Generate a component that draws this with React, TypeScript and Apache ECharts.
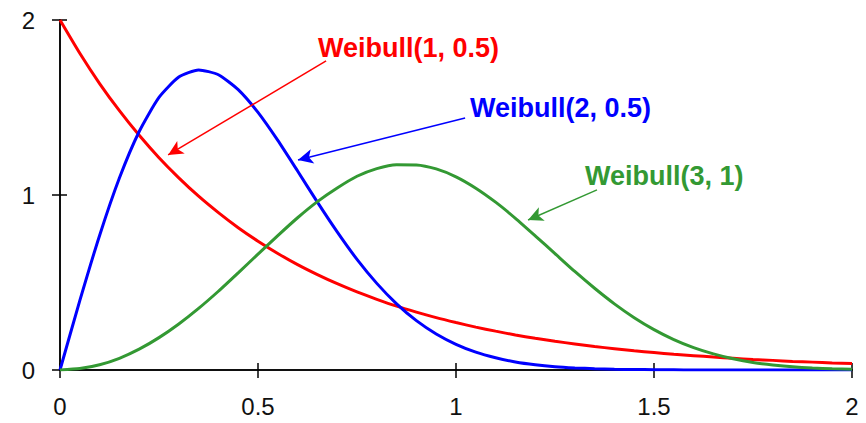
import React, { useEffect, useRef } from "react";
import * as echarts from "echarts";

const xValues = [
  0, 0.05, 0.1, 0.15, 0.2, 0.25, 0.3, 0.35, 0.4, 0.45, 0.5, 0.55, 0.6, 0.65, 0.7, 0.75, 0.8, 0.85, 0.9, 0.95,
  1.0, 1.05, 1.1, 1.15, 1.2, 1.25, 1.3, 1.35, 1.4, 1.45, 1.5, 1.55, 1.6, 1.65, 1.7, 1.75, 1.8, 1.85, 1.9, 1.95, 2.0,
];
const weibull1_05 = [
  2.0, 1.81, 1.637, 1.482, 1.341, 1.213, 1.098, 0.993, 0.899, 0.813, 0.736, 0.666, 0.602, 0.545, 0.493, 0.446,
  0.404, 0.365, 0.331, 0.299, 0.271, 0.245, 0.222, 0.2, 0.181, 0.164, 0.149, 0.134, 0.122, 0.11, 0.1, 0.09, 0.082,
  0.074, 0.067, 0.06, 0.055, 0.049, 0.045, 0.04, 0.037,
];
const weibull2_05 = [
  0, 0.396, 0.769, 1.097, 1.363, 1.558, 1.674, 1.715, 1.687, 1.602, 1.472, 1.312, 1.137, 0.959, 0.789, 0.632,
  0.495, 0.378, 0.282, 0.206, 0.147, 0.102, 0.07, 0.046, 0.03, 0.019, 0.012, 0.007, 0.004, 0.003, 0.002, 0.001, 0,
  0, 0, 0, 0, 0, 0, 0, 0,
];
const weibull3_1 = [
  0, 0.008, 0.03, 0.067, 0.119, 0.185, 0.263, 0.352, 0.45, 0.555, 0.662, 0.768, 0.87, 0.962, 1.04, 1.107, 1.151,
  1.173, 1.172, 1.149, 1.104, 1.039, 0.959, 0.867, 0.767, 0.665, 0.563, 0.467, 0.378, 0.299, 0.231, 0.174, 0.128,
  0.092, 0.064, 0.043, 0.029, 0.018, 0.011, 0.007, 0.004,
];
const xTicks = ["0", "0.5", "1", "1.5", "2"];
const yTicks = ["0", "1", "2"];
const seriesNames = ["Weibull(1, 0.5)", "Weibull(2, 0.5)", "Weibull(3, 1)"];
const seriesColors = ["#ff0000", "#0000ff", "#339933"];
// arrow annotations in data coordinates: [startX, startY, tipX, tipY]
const arrows = [
  [0.672, 1.766, 0.273, 1.229],
  [1.023, 1.44, 0.601, 1.2],
  [1.356, 1.029, 1.182, 0.857],
];
// label positions in pixels: [left, centerY]
const labelPos = [
  [318, 48],
  [470, 108],
  [585, 176],
];

const FONT = '"Liberation Sans", Arial, sans-serif';

export default function App() {
  const ref = useRef<HTMLDivElement>(null);
  useEffect(() => {
    document.body.style.margin = "0";
    const chart = echarts.init(ref.current!, null, { renderer: "svg" });
    const dataSets = [weibull1_05, weibull2_05, weibull3_1];
    const order = [0, 1, 2];
    const axisLine = { show: true, lineStyle: { color: "#000", width: 1.5 } };
    const labelStyle = { color: "#111", fontSize: 24, fontFamily: FONT };
    const option: any = {
      animation: false,
      backgroundColor: "#fff",
      grid: { left: 60, right: 14, top: 20, bottom: 53, containLabel: false },
      xAxis: [
        {
          type: "value",
          min: 0,
          max: 2,
          interval: 0.5,
          axisLine,
          axisTick: { show: true, inside: false, length: 8, lineStyle: { color: "#000", width: 1.5 } },
          axisLabel: {
            ...labelStyle,
            margin: 24,
            formatter: (v: number) => xTicks[Math.round(v / 0.5)] ?? "",
          },
          splitLine: { show: false },
        },
        {
          type: "value",
          position: "bottom",
          min: 0,
          max: 2,
          interval: 0.5,
          axisLine,
          axisTick: { show: true, inside: true, length: 7, lineStyle: { color: "#000", width: 1.5 } },
          axisLabel: { show: false },
          splitLine: { show: false },
        },
      ],
      yAxis: [
        {
          type: "value",
          min: 0,
          max: 2,
          interval: 1,
          axisLine,
          axisTick: { show: true, inside: false, length: 8, lineStyle: { color: "#000", width: 1.5 } },
          axisLabel: {
            ...labelStyle,
            margin: 25,
            formatter: (v: number) => yTicks[Math.round(v)] ?? "",
          },
          splitLine: { show: false },
        },
        {
          type: "value",
          position: "left",
          min: 0,
          max: 2,
          interval: 1,
          axisLine,
          axisTick: { show: true, inside: true, length: 7, lineStyle: { color: "#000", width: 1.5 } },
          axisLabel: { show: false },
          splitLine: { show: false },
        },
      ],
      series: order.map((i) => ({
        name: seriesNames[i],
        type: "line",
        xAxisIndex: 0,
        yAxisIndex: 0,
        showSymbol: false,
        smooth: 0.2,
        lineStyle: { color: seriesColors[i], width: 3 },
        itemStyle: { color: seriesColors[i] },
        data: xValues.map((x, k) => [x, dataSets[i][k]]),
        z: 2 + i,
        markLine: {
          silent: true,
          animation: false,
          symbol: ["none", "arrow"],
          symbolSize: [11, 15],
          label: { show: false },
          lineStyle: { color: seriesColors[i], width: 1.5, type: "solid" },
          data: [
            [
              { coord: [arrows[i][0], arrows[i][1]] },
              { coord: [arrows[i][2], arrows[i][3]] },
            ],
          ],
        },
      })),
      graphic: seriesNames.map((name, i) => ({
        type: "text",
        x: labelPos[i][0],
        y: labelPos[i][1],
        z: 10,
        style: {
          text: name,
          fill: seriesColors[i],
          font: `bold 27px ${FONT}`,
          align: "left",
          verticalAlign: "middle",
        },
      })),
    };
    chart.setOption(option);
    return () => chart.dispose();
  }, []);
  return <div ref={ref} style={{ width: 866, height: 423 }} />;
}
